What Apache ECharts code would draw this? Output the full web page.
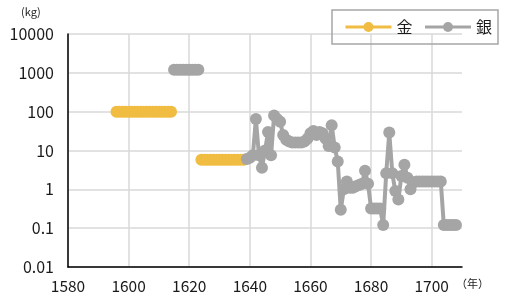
<!DOCTYPE html>
<html>
<head>
<meta charset="utf-8">
<script src="https://cdn.jsdelivr.net/npm/echarts@6/dist/echarts.min.js"></script>
<style>html,body{margin:0;padding:0;background:#fff}#c{width:505px;height:300px}</style>
</head>
<body>
<div id="c"></div>
<script>
const seriesNames = ['金', '銀'];
const xTickYears = [1580, 1600, 1620, 1640, 1660, 1680, 1700];
const yTickLabels = ['0.01', '0.1', '1', '10', '100', '1000', '10000'];

const goldYears = [1596,1597,1598,1599,1600,1601,1602,1603,1604,1605,1606,1607,1608,1609,1610,1611,1612,1613,1614,
  1619,
  1624,1625,1626,1627,1628,1629,1630,1631,1632,1633,1634,1635,1636,1637,1638];
const goldValues = [100,100,100,100,100,100,100,100,100,100,100,100,100,100,100,100,100,100,100,
  null,
  5.8,5.8,5.8,5.8,5.8,5.8,5.8,5.8,5.8,5.8,5.8,5.8,5.8,5.8,5.8];

const silverYears = [1615,1616,1617,1618,1619,1620,1621,1622,1623,
  1630,
  1639,1640,1641,1642,1643,1644,1645,1646,1647,1648,1649,
  1650,1651,1652,1653,1654,1655,1656,1657,1658,1659,
  1660,1661,1662,1663,1664,1665,1666,1667,1668,1669,
  1670,1671,1672,1673,1674,1675,1676,1677,1678,1679,
  1680,1681,1682,1683,1684,1685,1686,1687,1688,1689,
  1690,1691,1692,1693,1694,1695,1696,1697,1698,1699,
  1700,1701,1702,1703,1704,1705,1706,1707,1708];
const silverValues = [1200,1200,1200,1200,1200,1200,1200,1200,1200,
  null,
  6,6.5,7.5,65,7.5,3.6,10,30,7.5,80,65,
  55,25,19,17,16,16,16,16,17,20,
  28,32,25,30,28,20,13,45,12,5.2,
  0.3,1.0,1.6,1.1,1.1,1.2,1.3,1.4,3.0,1.4,
  0.32,0.32,0.32,0.32,0.12,2.6,29,2.6,0.9,0.55,
  2.2,4.3,2.0,1.0,1.5,1.6,1.6,1.6,1.6,1.6,
  1.6,1.6,1.6,1.6,0.12,0.12,0.12,0.12,0.12];

function pairs(xs, ys) {
  return xs.map((x, i) => [x, ys[i] == null ? '-' : ys[i]]);
}

const gold = '#F0BD42';
const gray = '#A5A5A5';
const font = '"Noto Sans CJK JP", "Noto Sans", sans-serif';
const textColor = '#1a1a1a';

const chart = echarts.init(document.getElementById('c'), null, {renderer: 'canvas'});
chart.setOption({
  animation: false,
  backgroundColor: '#fff',
  textStyle: {fontFamily: font},
  grid: {left: 68, right: 43, top: 34, bottom: 33, containLabel: false},
  legend: {
    left: 332, top: 10,
    data: seriesNames,
    itemWidth: 46, itemHeight: 12.5, itemGap: 11,
    padding: [9, 6, 9, 12],
    borderColor: '#A6A6A6', borderWidth: 1.5,
    lineStyle: {width: 3},
    textStyle: {fontSize: 16, color: textColor, fontFamily: font}
  },
  xAxis: {
    type: 'value', min: 1580, max: 1710, interval: 20,
    axisLine: {lineStyle: {color: '#000', width: 1.5}},
    axisTick: {show: false},
    axisLabel: {
      fontSize: 15.5, color: textColor, margin: 11, fontFamily: font,
      formatter: v => xTickYears.indexOf(v) >= 0 ? String(v) : ''
    },
    splitLine: {show: true, lineStyle: {color: ['#D9D9D9','#D9D9D9','#D9D9D9','#D9D9D9','#D9D9D9','#D9D9D9','#D9D9D9','rgba(0,0,0,0)'], width: 1.5}}
  },
  yAxis: {
    type: 'log', logBase: 10, min: 0.01, max: 10000, splitNumber: 6,
    axisLine: {show: true, onZero: false, lineStyle: {color: '#000', width: 1.5}},
    axisTick: {show: false},
    axisLabel: {
      fontSize: 16, color: textColor, margin: 14, fontFamily: font,
      formatter: v => yTickLabels[Math.round(Math.log10(v)) + 2] || ''
    },
    splitLine: {show: true, lineStyle: {color: '#D9D9D9', width: 1.5}}
  },
  graphic: [
    {type: 'text', left: 21, top: 6, style: {text: '(kg)', fontSize: 11, fill: textColor, fontFamily: font}},
    {type: 'text', left: 456, top: 278, style: {text: '（年）', fontSize: 11, fill: textColor, fontFamily: font}}
  ],
  series: [
    {
      name: seriesNames[0], type: 'line', data: pairs(goldYears, goldValues),
      symbol: 'circle', symbolSize: 12, showAllSymbol: true, connectNulls: false,
      lineStyle: {color: gold, width: 4}, itemStyle: {color: gold}, z: 2
    },
    {
      name: seriesNames[1], type: 'line', data: pairs(silverYears, silverValues),
      symbol: 'circle', symbolSize: 12, showAllSymbol: true, connectNulls: false,
      lineStyle: {color: gray, width: 4}, itemStyle: {color: gray}, z: 3
    }
  ]
});
</script>
</body>
</html>
